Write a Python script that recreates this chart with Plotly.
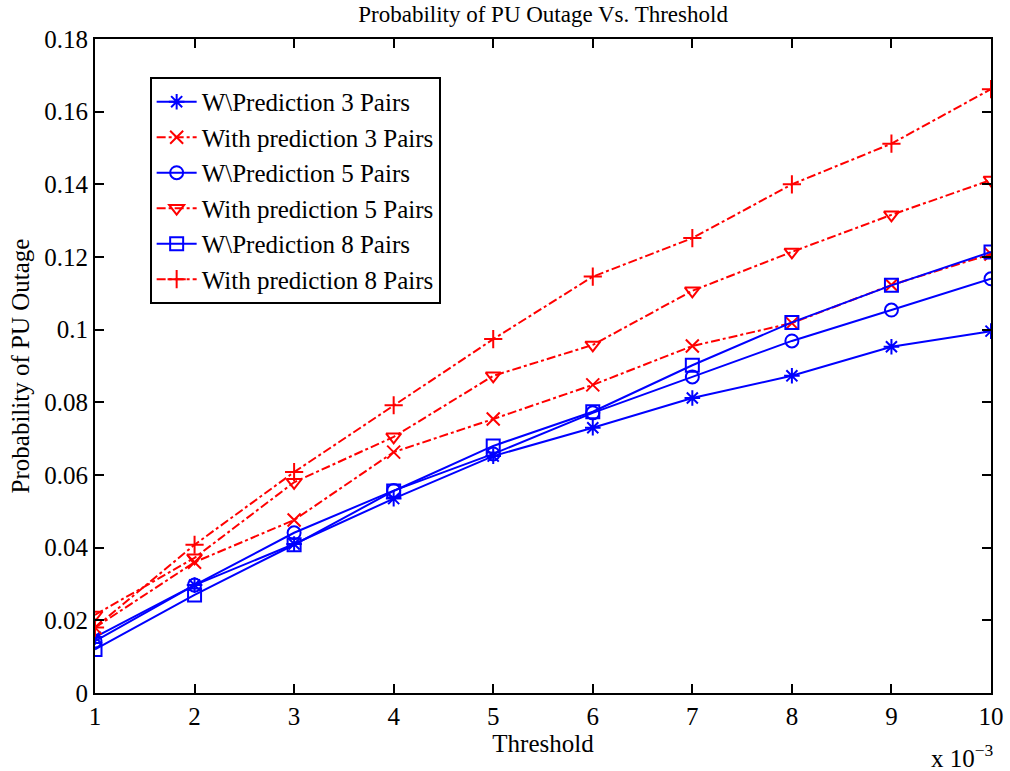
import plotly.graph_objects as go

# Threshold values (in units of 1e-3)
threshold = [1, 2, 3, 4, 5, 6, 7, 8, 9, 10]

# Probability of PU outage for each scheme
wo_pred_3 = [0.0154, 0.0297, 0.0410, 0.0535, 0.0652, 0.0730, 0.0812, 0.0873, 0.0953, 0.0996]
with_pred_3 = [0.0180, 0.0360, 0.0476, 0.0663, 0.0754, 0.0848, 0.0955, 0.1018, 0.1123, 0.1208]
wo_pred_5 = [0.0143, 0.0297, 0.0441, 0.0557, 0.0658, 0.0771, 0.0870, 0.0969, 0.1054, 0.1140]
with_pred_5 = [0.0215, 0.0372, 0.0580, 0.0705, 0.0873, 0.0958, 0.1107, 0.1214, 0.1316, 0.1412]
wo_pred_8 = [0.0120, 0.0270, 0.0408, 0.0556, 0.0680, 0.0774, 0.0902, 0.1020, 0.1122, 0.1214]
with_pred_8 = [0.0180, 0.0408, 0.0608, 0.0792, 0.0974, 0.1146, 0.1252, 0.1400, 0.1512, 0.1662]

series = [
    ("W\\Prediction 3 Pairs", wo_pred_3, "blue", "solid", "asterisk-open"),
    ("With prediction 3 Pairs", with_pred_3, "red", "dashdot", "x-thin-open"),
    ("W\\Prediction 5 Pairs", wo_pred_5, "blue", "solid", "circle-open"),
    ("With prediction 5 Pairs", with_pred_5, "red", "dashdot", "triangle-down-open"),
    ("W\\Prediction 8 Pairs", wo_pred_8, "blue", "solid", "square-open"),
    ("With prediction 8 Pairs", with_pred_8, "red", "dashdot", "cross-thin-open"),
]

FONT = "Liberation Serif, Times New Roman, serif"
FS = 25

fig = go.Figure()
for name, vals, color, dash, symbol in series:
    fig.add_trace(go.Scatter(
        x=threshold, y=vals, name=name, mode="lines+markers",
        line=dict(color=color, width=2, dash=dash),
        marker=dict(symbol=symbol, size=13, color=color,
                    line=dict(color=color, width=2)),
    ))

axis_common = dict(
    showline=True, linecolor="black", linewidth=2, mirror="ticks",
    ticks="inside", ticklen=9, tickwidth=1.5, tickcolor="black",
    showgrid=False, zeroline=False, automargin=False,
    tickfont=dict(family=FONT, size=FS, color="black"),
)

fig.update_layout(
    width=1010, height=771,
    margin=dict(l=95, r=19, t=39, b=78, autoexpand=False),
    paper_bgcolor="white", plot_bgcolor="white",
    font=dict(family=FONT, size=FS, color="black"),
    title=dict(text="Probability of PU Outage Vs. Threshold",
               x=0.5377, xanchor="center", y=0.982, yanchor="middle",
               font=dict(family=FONT, size=23, color="black")),
    xaxis=dict(range=[1, 10], tickvals=threshold, **axis_common,
               title=dict(text="Threshold", standoff=2,
                          font=dict(family=FONT, size=FS, color="black"))),
    yaxis=dict(range=[0, 0.18], dtick=0.02, **axis_common,
               title=dict(text="Probability of PU Outage", standoff=8,
                          font=dict(family=FONT, size=FS, color="black"))),
    legend=dict(x=0.061, y=0.942, xanchor="left", yanchor="top",
                bgcolor="white", bordercolor="black", borderwidth=2,
                font=dict(family=FONT, size=FS, color="black"),
                tracegroupgap=0, itemwidth=40),
    showlegend=True,
)

fig.add_annotation(
    text="x 10<sup>\u22123</sup>", xref="paper", yref="paper",
    x=1.006, y=-0.096, xanchor="right", yanchor="middle", showarrow=False,
    font=dict(family=FONT, size=FS, color="black"),
)

fig.write_html("out.html")
